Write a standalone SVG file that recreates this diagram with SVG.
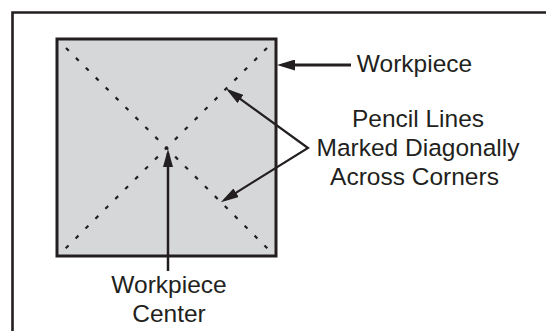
<svg xmlns="http://www.w3.org/2000/svg" width="546" height="331" viewBox="0 0 546 331">
<style>
.txt{font-family:"Liberation Sans",Arial,sans-serif;font-size:24.5px;fill:#231f20;text-anchor:middle}
.ln{stroke:#231f20;fill:none}
.dot{stroke:#231f20;stroke-width:2.2;stroke-dasharray:4 10;fill:none}
</style>
<defs>
<marker id="ah" viewBox="0 0 18 10" markerWidth="18" markerHeight="10" refX="14" refY="5" orient="auto-start-reverse" markerUnits="userSpaceOnUse">
<path d="M0,0 L18,5 L0,10 z" fill="#231f20"/>
</marker>
<marker id="ah3" viewBox="0 0 18 11" markerWidth="18" markerHeight="11" refX="12.5" refY="5.5" orient="auto" markerUnits="userSpaceOnUse">
<path d="M0,0 L18,5.5 L0,11 z" fill="#231f20"/>
</marker>
</defs>
<rect width="546" height="331" fill="#ffffff"/>
<g id="frame">
<path class="ln" d="M12.5,331 L12.5,12.5 L546,12.5" stroke-width="2.6"/>
</g>
<g id="workpiece">
<rect x="57" y="39" width="219" height="217" fill="#d6d7d9" stroke="#231f20" stroke-width="3"/>
<line class="dot" x1="66" y1="48" x2="270" y2="251"/>
<line class="dot" x1="267" y1="48" x2="63" y2="251"/>
</g>
<g id="connectors">
<line class="ln" x1="351" y1="65" x2="282.5" y2="65" stroke-width="3" marker-end="url(#ah3)"/>
<path class="ln" d="M229.1,90.8 L308,148 L224.2,200.1" stroke-width="2.2" stroke-linejoin="miter" marker-start="url(#ah)" marker-end="url(#ah)"/>
<line class="ln" x1="168" y1="271" x2="168" y2="153" stroke-width="2.5" marker-end="url(#ah)"/>
</g>
<g id="label-workpiece">
<text class="txt" x="414.5" y="72" style="text-anchor:middle">Workpiece</text>
</g>
<g id="label-pencil">
<text class="txt" x="418" y="126.7">Pencil Lines</text>
<text class="txt" x="418" y="155.5">Marked Diagonally</text>
<text class="txt" x="414.5" y="185">Across Corners</text>
</g>
<g id="label-center">
<text class="txt" x="169" y="293.3">Workpiece</text>
<text class="txt" x="169" y="321.7">Center</text>
</g>
</svg>
